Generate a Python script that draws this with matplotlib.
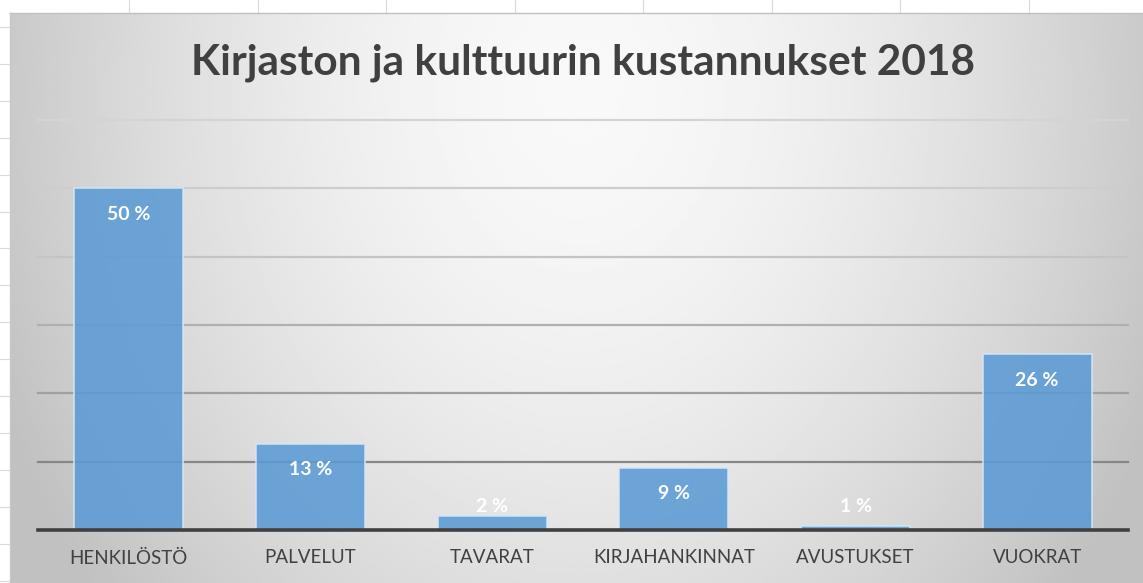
import numpy as np
import matplotlib
matplotlib.use("Agg")
import matplotlib.pyplot as plt

# data
categories = ["HENKILÖSTÖ", "PALVELUT", "TAVARAT", "KIRJAHANKINNAT", "AVUSTUKSET", "VUOKRAT"]
shares = [50.0, 12.6, 2.1, 9.1, 0.6, 25.7]
labels = ["50 %", "13 %", "2 %", "9 %", "1 %", "26 %"]
grid_levels = [10, 20, 30, 40, 50, 60]
title = "Kirjaston ja kulttuurin kustannukset 2018"

plt.rcParams['font.family'] = ['Lato', 'DejaVu Sans']

W, H = 1143, 583
fig = plt.figure(figsize=(W / 100, H / 100), dpi=100)
fig.patch.set_facecolor("white")

# background: excel sheet + radial gradient chart area
bg = fig.add_axes([0, 0, 1, 1])
bg.set_xlim(0, W)
bg.set_ylim(H, 0)
bg.axis("off")
xx, yy = np.meshgrid(np.linspace(10, W, 400), np.linspace(13, H, 200))
d = np.sqrt(((xx - 580) / 600) ** 2 + ((yy - 90) / 750) ** 2)
shade = 0.975 - 0.2 * np.clip(d, 0, 1.05) ** 1.7
bg.imshow(shade, cmap="gray", vmin=0, vmax=1, extent=[10, W, H, 13],
          aspect="auto", interpolation="bilinear")
bg.plot([10, W], [13, 13], color="#c0c0c0", lw=1)
bg.plot([10, 10], [13, H], color="#c8c8c8", lw=1)
for x in np.arange(129, W, 128.5):
    bg.plot([x, x], [0, 12], color="#dadada", lw=0.8)
for y in np.arange(27, H, 36.9):
    bg.plot([0, 9], [y, y], color="#dadada", lw=0.8)

# chart
ax = fig.add_axes([38 / W, 53 / H, 1090 / W, 410 / H])
ax.patch.set_alpha(0)
x = np.arange(len(categories))
grid_cols = ["#878787", "#a0a0a0", "#b0b0b0", "#c4c4c4", "#cdcdcd", "#d4d4d4"]
for lvl, c in zip(grid_levels, grid_cols):
    ax.axhline(lvl, color=c, lw=1.6, zorder=1, clip_on=False)

ax.bar(x, shares, width=0.6, color="#5b9bd5", alpha=0.88,
       edgecolor="#d6e6f5", linewidth=1.2, zorder=2)
ax.axhline(0, color="#404040", lw=2.6, zorder=4, clip_on=False)

for xi, v, lab in zip(x, shares, labels):
    ax.text(xi, max(v - 3.8, 3.4), lab, ha="center", va="center",
            color="white", fontsize=14, fontweight="bold", zorder=5)

ax.set_xlim(-0.5, len(categories) - 0.5)
ax.set_ylim(0, 60)
ax.set_yticks([])
ax.set_xticks(x)
ax.set_xticklabels(categories, fontsize=13.5, color="#404040")
ax.tick_params(axis="x", length=0, pad=14)
for s in ax.spines.values():
    s.set_visible(False)

fig.text(583 / W, 1 - 63 / H, title, ha="center", va="center",
         fontsize=30.5, fontweight="bold", color="#404040")

fig.savefig("out.png", dpi=100)
